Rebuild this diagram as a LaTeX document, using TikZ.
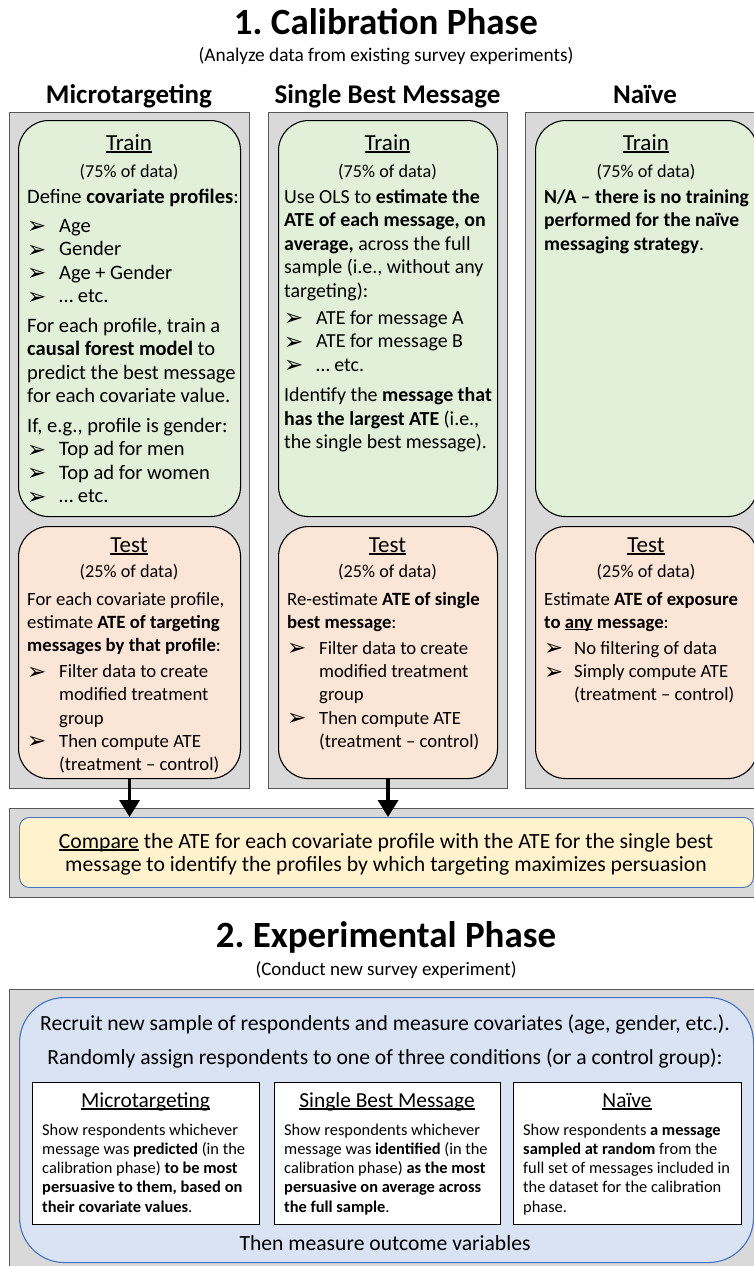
\documentclass[tikz,border=0pt]{standalone}
\usepackage{fontspec}
\setmainfont{Carlito}
\newfontfamily\dvfont{DejaVu Sans}
\usetikzlibrary{arrows.meta}
\newcommand\fs[2]{\fontsize{#1pt}{#2pt}\selectfont}
\newcommand\arwglyph{\raisebox{-1.5pt}{\dvfont\fontsize{23pt}{23pt}\selectfont ➢}}
\newcommand\bula{\makebox[32pt][l]{\arwglyph}}
\newcommand\bulb{\makebox[30pt][l]{\arwglyph}}
\newcommand\hinda{\hspace*{32pt}}
\newcommand\hindb{\hspace*{30pt}}
\newcommand\uln[1]{\setbox0\hbox{#1}\rlap{\rule[-0.12em]{\wd0}{0.065em}}\box0\relax}
\newcommand\lns[1]{\begin{tabular}[t]{@{}l@{}}#1\end{tabular}}
\definecolor{colgray}{HTML}{D9D9D9}
\definecolor{bordgray}{HTML}{595959}
\definecolor{trgreen}{HTML}{E2F0D9}
\definecolor{tspink}{HTML}{FBE5D6}
\definecolor{cmpyel}{HTML}{FFF2CC}
\definecolor{expblue}{HTML}{DAE3F3}
\definecolor{bluebord}{HTML}{4472C4}
\tikzset{
  colbox/.style={draw=bordgray, fill=colgray, line width=1.3pt, rectangle, inner sep=0pt, anchor=north west},
  phasebox/.style={draw=black, line width=1.1pt, rounded corners=30pt, inner sep=0pt, anchor=north west},
  whitebox/.style={draw=black, fill=white, line width=1.1pt, inner sep=0pt, anchor=north west},
  bodytxt/.style={inner sep=0pt, anchor=base west, font=\fs{#1}{23.5}},
  bodytxt/.default=20.5,
  testtxt/.style={inner sep=0pt, anchor=base west, font=\fs{18.7}{23.2}},
  smalltxt/.style={inner sep=0pt, anchor=base west, font=\fs{16.4}{19.3}},
  boxtitle/.style={inner sep=0pt, anchor=base, font=\fs{23}{23}},
  boxsub/.style={inner sep=0pt, anchor=base, font=\fs{18.2}{18.2}},
  colhead/.style={inner sep=0pt, anchor=base, font=\bfseries\fs{27}{27}},
  phasetitle/.style={inner sep=0pt, anchor=base, font=\bfseries\fs{37}{37}},
  phasesub/.style={inner sep=0pt, anchor=base, font=\fs{#1}{19}},
  bigline/.style={inner sep=0pt, anchor=base, font=\fs{21.6}{22}},
  arr/.style={line width=3.5pt, -{Triangle[width=20pt,length=17pt]}},
}
\begin{document}
\frenchspacing
\begin{tikzpicture}[x=1pt,y=-1pt]
\useasboundingbox (0,0) rectangle (754,1266);
\fill[white] (0,0) rectangle (754,1266);
\clip (0,0) rectangle (754,1266);

% ---------- Phase 1 ----------
\node[phasetitle] (t1) at (386,34) {1. Calibration Phase};
\node[phasesub=19.3] (s1) at (386,61) {(Analyze data from existing survey experiments)};

\node[colhead] (h1) at (129,103) {Microtargeting};
\node[colhead] (h2) at (387.5,103) {Single Best Message};
\node[colhead] (h3) at (645,103) {Naïve};

\node[colbox, minimum width=240pt, minimum height=676pt] (col1) at (9,112) {};
\node[colbox, minimum width=239pt, minimum height=676pt] (col2) at (268,112) {};
\node[colbox, minimum width=240pt, minimum height=676pt] (col3) at (525,112) {};

\node[phasebox, fill=trgreen, minimum width=222pt, minimum height=396pt] (tr1) at (18,120) {};
\node[phasebox, fill=trgreen, minimum width=219pt, minimum height=396pt] (tr2) at (278,120) {};
\node[phasebox, fill=trgreen, minimum width=222pt, minimum height=396pt] (tr3) at (535,120) {};

\node[phasebox, fill=tspink, minimum width=222pt, minimum height=252pt] (ts1) at (18,526) {};
\node[phasebox, fill=tspink, minimum width=219pt, minimum height=252pt] (ts2) at (278,526) {};
\node[phasebox, fill=tspink, minimum width=222pt, minimum height=252pt] (ts3) at (535,526) {};

% Train titles
\node[boxtitle] (tr1t) at (129,150) {\uln{Train}};
\node[boxsub] (tr1s) at (129,177) {(75\% of data)};
\node[boxtitle] (tr2t) at (387.5,150) {\uln{Train}};
\node[boxsub] (tr2s) at (387.5,177) {(75\% of data)};
\node[boxtitle] (tr3t) at (646,150) {\uln{Train}};
\node[boxsub] (tr3s) at (646,177) {(75\% of data)};

% Test titles
\node[boxtitle] (ts1t) at (129,552) {\uln{Test}};
\node[boxsub] (ts1s) at (129,577) {(25\% of data)};
\node[boxtitle] (ts2t) at (387.5,552) {\uln{Test}};
\node[boxsub] (ts2s) at (387.5,577) {(25\% of data)};
\node[boxtitle] (ts3t) at (646,552) {\uln{Test}};
\node[boxsub] (ts3s) at (646,577) {(25\% of data)};

% Train bodies
\node[bodytxt=20.5] (tr1b) at (27,203) {\lns{Define \textbf{covariate profiles}:\\[5.5pt]
\bula Age\\
\bula Gender\\
\bula Age + Gender\\
\bula … etc.\\[6pt]
For each profile, train a\\
\textbf{causal forest model} to\\
predict the best message\\
for each covariate value.\\[6pt]
If, e.g., profile is gender:\\
\bula Top ad for men\\
\bula Top ad for women\\
\bula … etc.}};

\node[bodytxt=19.9] (tr2b) at (284,203) {\lns{Use OLS to \textbf{estimate the}\\
\textbf{ATE of each message, on}\\
\textbf{average,} across the full\\
sample (i.e., without any\\
targeting):\\[3.5pt]
\bula ATE for message A\\
\bula ATE for message B\\
\bula … etc.\\[7pt]
Identify the \textbf{message that}\\
\textbf{has the largest ATE} (i.e.,\\
the single best message).}};

\node[bodytxt=19.6] (tr3b) at (544,203) {\lns{\textbf{N/A – there is no training}\\
\textbf{performed for the naïve}\\
\textbf{messaging strategy}.}};

% Test bodies
\node[testtxt] (ts1b) at (27,605) {\lns{For each covariate profile,\\
estimate \textbf{ATE of targeting}\\
\textbf{messages by that profile}:\\[3pt]
\bula Filter data to create\\
\hinda modified treatment\\
\hinda group\\
\bula Then compute ATE\\
\hinda (treatment – control)}};

\node[testtxt] (ts2b) at (287,605) {\lns{Re-estimate \textbf{ATE of single}\\
\textbf{best message}:\\[3pt]
\bula Filter data to create\\
\hinda modified treatment\\
\hinda group\\
\bula Then compute ATE\\
\hinda (treatment – control)}};

\node[testtxt] (ts3b) at (544,605) {\lns{Estimate \textbf{ATE of exposure}\\
\textbf{to \uln{any} message}:\\[3pt]
\bulb No filtering of data\\
\bulb Simply compute ATE\\
\hindb (treatment – control)}};

% Compare
\node[colbox, minimum width=754pt, minimum height=89pt] (cmpbg) at (9,808) {};
\node[draw=bluebord, fill=cmpyel, line width=0.9pt, rounded corners=10pt, inner sep=0pt,
      anchor=north west, minimum width=734pt, minimum height=70pt] (cmp) at (19,817) {};
\node[inner sep=0pt, anchor=base, font=\fs{21.7}{23.5}] (cmptxt) at (386,848)
  {\begin{tabular}[t]{@{}c@{}}\uln{Compare} the ATE for each covariate profile with the ATE for the single best\\
   message to identify the profiles by which targeting maximizes persuasion\end{tabular}};

\draw[arr] (ts1.south) -- (ts1.south |- cmp.north);
\draw[arr] (ts2.south) -- (ts2.south |- cmp.north);

% ---------- Phase 2 ----------
\node[phasetitle] (t2) at (386,947) {2. Experimental Phase};
\node[phasesub=19.0] (s2) at (386,975) {(Conduct new survey experiment)};

\node[colbox, minimum width=754pt, minimum height=290pt] (expbg) at (9,989) {};
\node[draw=bluebord, fill=expblue, line width=1.1pt, rounded corners=45pt, inner sep=0pt,
      anchor=north west, minimum width=734pt, minimum height=265pt] (exp) at (19,997) {};

\node[bigline] (l1) at (385,1030) {Recruit new sample of respondents and measure covariates (age, gender, etc.).};
\node[bigline] (l2) at (385,1064) {Randomly assign respondents to one of three conditions (or a control group):};

\node[whitebox, minimum width=227pt, minimum height=142pt] (w1) at (32,1082) {};
\node[whitebox, minimum width=226pt, minimum height=142pt] (w2) at (274,1082) {};
\node[whitebox, minimum width=228pt, minimum height=142pt] (w3) at (513,1082) {};

\node[inner sep=0pt, anchor=base, font=\fs{21.4}{21.4}] (w1h) at (145.5,1107) {\uln{Microtargeting}};
\node[inner sep=0pt, anchor=base, font=\fs{21.4}{21.4}] (w2h) at (387,1107) {\uln{Single Best Message}};
\node[inner sep=0pt, anchor=base, font=\fs{21.4}{21.4}] (w3h) at (627,1107) {\uln{Naïve}};

\node[smalltxt] (w1b) at (42,1135) {\lns{Show respondents whichever\\
message was \textbf{predicted} (in the\\
calibration phase) \textbf{to be most}\\
\textbf{persuasive to them, based on}\\
\textbf{their covariate values}.}};

\node[smalltxt] (w2b) at (284,1135) {\lns{Show respondents whichever\\
message was \textbf{identified} (in the\\
calibration phase) \textbf{as the most}\\
\textbf{persuasive on average across}\\
\textbf{the full sample}.}};

\node[smalltxt] (w3b) at (523,1135) {\lns{Show respondents \textbf{a message}\\
\textbf{sampled at random} from the\\
full set of messages included in\\
the dataset for the calibration\\
phase.}};

\node[bigline] (l3) at (385,1250) {Then measure outcome variables};
\end{tikzpicture}
\end{document}
